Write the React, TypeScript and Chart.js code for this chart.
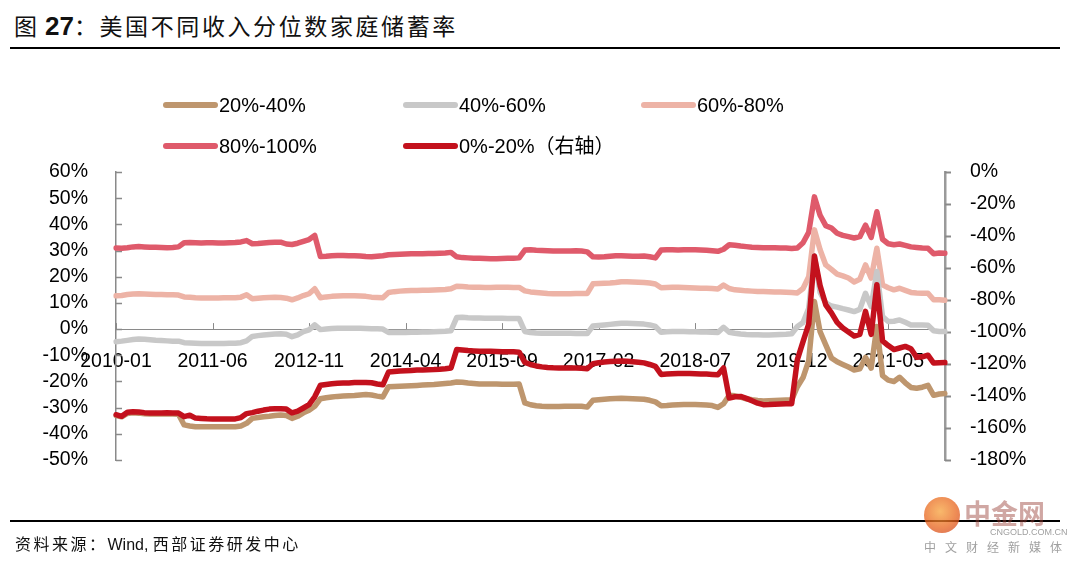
import React, { useEffect, useRef } from 'react';
import { Chart, registerables } from 'chart.js';

Chart.register(...registerables);

// ---------- categories (monthly, 2010-01 .. 2022-03) ----------
const START_YEAR = 2010;
const MONTH_COUNT = 147;
const categories: string[] = Array.from({ length: MONTH_COUNT }, (_, i) => {
  const y = START_YEAR + Math.floor(i / 12);
  const m = (i % 12) + 1;
  return `${y}-${m < 10 ? '0' + m : m}`;
});
const TICK_EVERY = 17;

// ---------- left axis ----------
const leftTicks = { min: -50, max: 60, step: 10 };
// ---------- right axis ----------
const rightTicks = { min: -180, max: 0, step: 20 };

// ---------- series (savings rate, %) ----------
const q20_40: number[] = [
  -33.0, -33.5, -32.2, -32.0, -32.1, -32.3, -32.4, -32.4, -32.4, -32.4, -32.4, -32.5,
  -36.6, -37.0, -37.3, -37.3, -37.3, -37.3, -37.3, -37.3, -37.3, -37.3, -37.0, -36.0,
  -34.1, -33.8, -33.5, -33.3, -33.0, -32.8, -33.0, -34.1, -33.3, -32.0, -31.0, -29.5,
  -26.6, -26.2, -25.9, -25.7, -25.6, -25.5, -25.4, -25.2, -25.0, -25.2, -25.6, -25.9,
  -22.0, -21.9, -21.8, -21.7, -21.6, -21.5, -21.4, -21.3, -21.2, -21.0, -20.8, -20.6,
  -20.2, -20.3, -20.6, -20.8, -21.0, -21.0, -21.0, -21.0, -21.1, -21.1, -21.1, -21.0,
  -28.2, -28.9, -29.3, -29.5, -29.6, -29.6, -29.6, -29.5, -29.5, -29.5, -29.5, -29.8,
  -27.2, -27.0, -26.8, -26.6, -26.5, -26.4, -26.5, -26.6, -26.7, -26.8, -27.2, -27.8,
  -29.3, -29.2, -29.0, -28.9, -28.8, -28.8, -28.8, -28.9, -29.0, -29.2, -29.9, -28.5,
  -25.3, -25.5, -26.0, -26.6, -27.0, -27.3, -27.5, -27.4, -27.3, -27.2, -27.1, -27.0,
  -22.0, -18.5, -12.0, 10.5, -1.0, -6.0, -11.0, -12.5, -13.5, -14.5, -15.6, -15.2,
  -10.8, -14.9, 1.0, -17.8, -19.5, -20.0, -18.4, -20.5, -22.3, -22.6, -22.2, -21.5,
  -25.3, -24.8, -24.6,
];

const q40_60: number[] = [
  -4.8, -4.6, -4.3, -4.0, -3.8, -3.9, -4.1, -4.3, -4.4, -4.5, -4.6, -4.6,
  -5.2, -5.3, -5.4, -5.5, -5.5, -5.5, -5.5, -5.5, -5.4, -5.4, -5.2, -4.5,
  -2.8, -2.5, -2.3, -2.1, -1.9, -1.8, -2.0, -2.9, -2.2, -1.0, -0.3, 1.6,
  -0.2, 0.0, 0.2, 0.3, 0.3, 0.3, 0.3, 0.3, 0.2, 0.1, 0.1, 0.0,
  -1.3, -1.3, -1.3, -1.3, -1.2, -1.2, -1.1, -1.1, -1.0, -0.9, -0.8, -0.6,
  4.4, 4.5, 4.3, 4.2, 4.2, 4.1, 4.1, 4.1, 4.1, 4.0, 4.0, 4.0,
  -0.9, -1.3, -1.5, -1.6, -1.6, -1.6, -1.6, -1.6, -1.6, -1.7, -1.7, -1.7,
  1.2, 1.4, 1.6, 1.8, 2.0, 2.2, 2.2, 2.1, 2.0, 1.9, 1.6, 1.0,
  -1.2, -1.0, -0.9, -0.9, -0.9, -1.0, -1.0, -1.1, -1.1, -1.2, -1.3, 0.7,
  -1.2, -1.6, -1.9, -2.1, -2.2, -2.2, -2.3, -2.3, -2.2, -2.1, -2.0, -1.8,
  1.0, 2.5, 8.0, 28.0, 14.0, 10.0, 8.8, 8.4, 7.8, 7.3, 6.7, 7.5,
  13.7, 8.6, 22.0, 4.8, 2.9, 3.0, 3.5, 2.6, 1.6, 1.6, 1.6, 1.5,
  -0.6, -0.9, -0.9,
];

const q60_80: number[] = [
  12.7, 12.8, 13.2, 13.4, 13.5, 13.4, 13.3, 13.2, 13.2, 13.1, 13.1, 13.0,
  12.3, 12.2, 12.0, 11.9, 11.9, 11.9, 11.9, 12.0, 12.0, 12.0, 12.2, 13.1,
  11.6, 11.8, 12.0, 12.1, 12.2, 12.1, 11.8, 11.2, 11.9, 12.8, 13.5, 15.4,
  12.0, 12.3, 12.5, 12.6, 12.7, 12.7, 12.7, 12.6, 12.5, 12.2, 12.1, 12.0,
  14.0, 14.3, 14.5, 14.6, 14.7, 14.7, 14.8, 14.8, 14.9, 15.0, 15.1, 15.4,
  16.4, 16.3, 16.1, 16.0, 16.0, 15.9, 15.9, 16.0, 16.0, 16.0, 15.9, 15.9,
  14.6, 14.2, 14.0, 13.8, 13.6, 13.5, 13.5, 13.5, 13.5, 13.6, 13.6, 13.6,
  17.3, 17.4, 17.5, 17.6, 17.8, 18.1, 18.1, 18.0, 17.9, 17.8, 17.6, 17.2,
  15.8, 15.9, 16.0, 16.0, 15.9, 15.8, 15.7, 15.6, 15.6, 15.5, 15.3, 16.8,
  15.5, 15.0, 14.8, 14.6, 14.5, 14.4, 14.4, 14.3, 14.2, 14.2, 14.1, 14.0,
  13.8, 15.5, 20.0, 37.9, 30.3, 24.5, 22.8, 21.0, 20.3, 19.5, 18.0, 19.0,
  24.5, 19.5, 30.9, 16.9, 15.8, 15.0, 15.6, 14.8, 14.0, 13.8, 13.7, 13.7,
  11.2, 11.2, 11.0,
];

const q80_100: number[] = [
  31.0, 30.9, 31.1, 31.4, 31.5, 31.4, 31.3, 31.3, 31.2, 31.1, 31.2, 31.4,
  33.0, 33.1, 33.0, 32.9, 33.0, 33.0, 32.9, 32.9, 33.0, 33.1, 33.3, 33.8,
  32.6, 32.7, 32.9, 33.1, 33.2, 33.2, 32.5, 32.3, 32.8, 33.5, 34.2, 35.8,
  27.7, 27.8, 28.0, 28.1, 28.1, 28.0, 28.0, 27.9, 27.7, 27.6, 27.8, 28.0,
  28.4, 28.5, 28.6, 28.7, 28.8, 28.8, 28.8, 28.9, 28.9, 29.0, 29.1, 29.3,
  27.6, 27.3, 27.2, 27.1, 27.1, 27.0, 26.9, 26.9, 27.0, 27.1, 27.1, 27.2,
  30.2, 30.3, 30.1, 30.0, 29.9, 29.8, 29.8, 29.8, 29.8, 29.9, 29.8, 29.5,
  27.6, 27.5, 27.6, 27.8, 28.0, 28.0, 27.9, 27.8, 27.8, 27.9, 27.6, 27.2,
  30.2, 30.3, 30.3, 30.2, 30.3, 30.3, 30.3, 30.2, 30.1, 29.9, 29.7, 30.5,
  32.2, 32.0, 31.7, 31.5, 31.3, 31.2, 31.1, 31.1, 31.1, 31.0, 31.0, 30.8,
  31.0, 33.0, 37.0, 50.5, 43.5, 39.5, 38.6, 36.6, 35.8, 35.3, 34.8, 35.3,
  39.7, 35.0, 44.8, 34.3, 32.6, 32.2, 32.5, 32.0, 31.4, 31.2, 31.0, 30.9,
  28.8, 29.1, 29.0,
];

// bottom quintile, plotted on the right axis
const q0_20: number[] = [
  -151.7, -152.7, -150.2, -149.8, -150.0, -150.4, -150.6, -150.6, -150.6, -150.5, -150.6, -150.7,
  -152.9, -152.0, -153.8, -154.0, -154.2, -154.3, -154.3, -154.4, -154.4, -154.3, -153.5, -151.0,
  -150.4, -149.5, -148.8, -148.2, -148.0, -148.0, -148.2, -150.6, -149.5, -147.5, -145.4, -140.5,
  -133.3, -132.8, -132.4, -132.1, -131.9, -131.8, -131.6, -131.5, -131.5, -131.7, -132.5, -133.0,
  -125.0, -124.7, -124.4, -124.2, -124.0, -123.8, -123.7, -123.6, -123.5, -123.3, -123.0, -122.5,
  -111.0, -111.3, -111.6, -111.8, -112.0, -112.1, -112.1, -112.2, -112.3, -112.3, -112.4, -112.6,
  -119.0, -120.3, -121.2, -121.8, -122.2, -122.4, -122.5, -122.5, -122.5, -122.5, -122.6, -123.0,
  -119.8, -119.2, -118.8, -118.5, -118.3, -118.2, -118.3, -118.6, -118.9, -119.3, -120.3, -121.5,
  -126.5, -126.3, -126.1, -126.0, -126.0, -126.0, -126.1, -126.2, -126.3, -126.5, -126.7, -122.5,
  -141.3, -140.5, -140.3, -141.5, -143.0, -144.5, -145.4, -145.3, -145.1, -145.0, -144.9, -144.8,
  -117.3, -106.0, -95.0, -52.5, -71.0, -83.0, -88.0, -94.0, -97.5, -100.0, -102.5, -101.5,
  -87.1, -101.5, -70.4, -105.5, -108.5, -111.0, -110.0, -109.0, -110.5, -115.8, -115.5, -114.5,
  -119.4, -119.2, -119.1,
];

// ---------- styling ----------
const COLORS = {
  q20: '#BE966E',
  q40: '#C8C8C8',
  q60: '#EDB3A6',
  q80: '#DF5A6B',
  q0: '#C3111D',
};
const FONT = '"Liberation Sans", Arial, "Noto Sans CJK SC", sans-serif';
const CJK = '"Noto Sans CJK SC", "Liberation Sans", sans-serif';
const AXIS_GRAY = '#8a8a8a';

const legendItems = [
  { label: '20%-40%', color: COLORS.q20, col: 0, row: 0 },
  { label: '40%-60%', color: COLORS.q40, col: 1, row: 0 },
  { label: '60%-80%', color: COLORS.q60, col: 2, row: 0 },
  { label: '80%-100%', color: COLORS.q80, col: 0, row: 1 },
  { label: '0%-20%（右轴）', color: COLORS.q0, col: 1, row: 1 },
];

const tickMarks = {
  id: 'tickMarks',
  beforeDatasetsDraw(chart: any) {
    const { ctx, chartArea, scales } = chart;
    const yL = scales.y;
    const yR = scales.y1;
    const x = scales.x;
    ctx.save();
    ctx.strokeStyle = AXIS_GRAY;
    ctx.lineWidth = 1.5;
    yL.ticks.forEach((_: any, i: number) => {
      const p = Math.round(yL.getPixelForTick(i)) + 0.5;
      ctx.beginPath();
      ctx.moveTo(chartArea.left, p);
      ctx.lineTo(chartArea.left + 6, p);
      ctx.stroke();
    });
    ctx.lineWidth = 2;
    yR.ticks.forEach((_: any, i: number) => {
      const p = Math.round(yR.getPixelForTick(i)) + 0.5;
      ctx.beginPath();
      ctx.moveTo(chartArea.right, p);
      ctx.lineTo(chartArea.right + 6, p);
      ctx.stroke();
    });
    const y0 = yL.getPixelForValue(0);
    ctx.lineWidth = 1;
    x.ticks.forEach((_: any, i: number) => {
      const p = Math.round(x.getPixelForTick(i)) + 0.5;
      ctx.beginPath();
      ctx.moveTo(p, y0);
      ctx.lineTo(p, y0 - 6);
      ctx.stroke();
    });
    ctx.restore();
  },
};

export default function App() {
  const ref = useRef<HTMLCanvasElement>(null);

  useEffect(() => {
    if (!ref.current) return;
    const line = (label: string, data: number[], color: string, axis: string, order: number) => ({
      label,
      data,
      yAxisID: axis,
      borderColor: color,
      backgroundColor: color,
      borderWidth: 5.5,
      pointRadius: 0,
      tension: 0,
      fill: false,
      order,
      borderJoinStyle: 'round' as const,
      borderCapStyle: 'round' as const,
    });
    const tickFont = { family: FONT, size: 19.5 };
    const chart = new Chart(ref.current, {
      type: 'line',
      data: {
        labels: categories,
        datasets: [
          line('0%-20%（右轴）', q0_20, COLORS.q0, 'y1', 0),
          line('20%-40%', q20_40, COLORS.q20, 'y', 1),
          line('40%-60%', q40_60, COLORS.q40, 'y', 2),
          line('60%-80%', q60_80, COLORS.q60, 'y', 3),
          line('80%-100%', q80_100, COLORS.q80, 'y', 4),
        ],
      },
      options: {
        responsive: false,
        animation: false,
        devicePixelRatio: 1,
        layout: { padding: { left: 0, right: 0, top: 172, bottom: 103 } },
        plugins: { legend: { display: false }, tooltip: { enabled: false }, title: { display: false } },
        scales: {
          x: {
            type: 'category',
            position: { y: 0 } as any,
            offset: false,
            grid: { display: false },
            border: { display: true, color: AXIS_GRAY, width: 1 },
            ticks: {
              autoSkip: false,
              maxRotation: 0,
              minRotation: 0,
              padding: 12.5,
              color: '#000',
              font: tickFont,
            },
            afterBuildTicks: (s: any) => {
              s.ticks = s.ticks.filter((t: any) => t.value % TICK_EVERY === 0);
            },
          },
          y: {
            position: 'left',
            min: leftTicks.min,
            max: leftTicks.max,
            grid: { display: false },
            border: { display: true, color: AXIS_GRAY, width: 1.5 },
            ticks: {
              stepSize: leftTicks.step,
              autoSkip: false,
              padding: 20,
              color: '#000',
              font: tickFont,
              callback: (v: any) => `${v}%`,
            },
            afterFit: (s: any) => {
              s.width = 116;
            },
          },
          y1: {
            position: 'right',
            min: rightTicks.min,
            max: rightTicks.max,
            grid: { display: false },
            border: { display: true, color: '#9a9a9a', width: 2.5 },
            ticks: {
              stepSize: rightTicks.step,
              autoSkip: false,
              padding: 17,
              color: '#000',
              font: tickFont,
              callback: (v: any) => `${v}%`,
            },
            afterFit: (s: any) => {
              s.width = 135;
            },
          },
        },
      } as any,
      plugins: [tickMarks],
    });
    return () => chart.destroy();
  }, []);

  const legendX = [163, 403, 641];
  const legendY = [105, 146];

  return (
    <div
      style={{
        position: 'absolute',
        left: 0,
        top: 0,
        width: 1080,
        height: 563,
        background: '#fff',
        overflow: 'hidden',
        fontFamily: FONT,
        color: '#000',
      }}
    >
      {/* title */}
      <div
        style={{
          position: 'absolute',
          left: 14,
          top: 9,
          height: 32,
          lineHeight: '32px',
          whiteSpace: 'nowrap',
          fontFamily: CJK,
          fontSize: 23,
          color: '#111',
        }}
      >
        <span>图</span>
        <span style={{ fontFamily: FONT, fontWeight: 'bold', fontSize: 26, marginLeft: 8 }}>27</span>
        <span style={{ letterSpacing: 2.6 }}>：美国不同收入分位数家庭储蓄率</span>
      </div>
      <div style={{ position: 'absolute', left: 10, top: 47, width: 1050, height: 1.5, background: '#000' }} />

      <canvas
        ref={ref}
        width={1080}
        height={563}
        style={{ position: 'absolute', left: 0, top: 0, width: 1080, height: 563 }}
      />

      {/* legend */}
      {legendItems.map((it) => {
        const x = legendX[it.col];
        const y = legendY[it.row];
        return (
          <React.Fragment key={it.label}>
            <div
              style={{
                position: 'absolute',
                left: x,
                top: y - 3,
                width: 55,
                height: 6,
                borderRadius: 3,
                background: it.color,
              }}
            />
            <div
              style={{
                position: 'absolute',
                left: x + 56,
                top: y - 12,
                height: 24,
                lineHeight: '24px',
                fontSize: 20,
                whiteSpace: 'nowrap',
                fontFamily: FONT,
              }}
            >
              {it.label}
            </div>
          </React.Fragment>
        );
      })}

      {/* footer */}
      <div style={{ position: 'absolute', left: 10, top: 520, width: 1050, height: 1.5, background: '#000' }} />
      <div
        style={{
          position: 'absolute',
          left: 15,
          top: 532,
          height: 22,
          lineHeight: '22px',
          fontSize: 16,
          fontFamily: CJK,
          letterSpacing: 2.5,
          whiteSpace: 'nowrap',
          color: '#111',
        }}
      >
        资料来源：<span style={{ fontFamily: FONT, letterSpacing: 0 }}>Wind, </span>西部证券研发中心
      </div>

      {/* watermark */}
      <div
        style={{
          position: 'absolute',
          left: 924,
          top: 497,
          width: 36,
          height: 36,
          borderRadius: 18,
          background: 'radial-gradient(circle at 45% 40%, #f6a13a 0%, #e8641c 55%, #c9381a 100%)',
          opacity: 0.75,
        }}
      />
      <div
        style={{
          position: 'absolute',
          left: 964,
          top: 498,
          fontSize: 27,
          lineHeight: '30px',
          fontWeight: 'bold',
          fontFamily: CJK,
          color: 'rgba(150,60,50,0.45)',
          whiteSpace: 'nowrap',
        }}
      >
        中金网
      </div>
      <div
        style={{
          position: 'absolute',
          left: 990,
          top: 527,
          fontSize: 9,
          lineHeight: '10px',
          color: '#a0a0a0',
          whiteSpace: 'nowrap',
        }}
      >
        CNGOLD.COM.CN
      </div>
      <div
        style={{
          position: 'absolute',
          left: 924,
          top: 539,
          fontSize: 12,
          lineHeight: '16px',
          letterSpacing: 9,
          fontFamily: CJK,
          color: '#a0a0a0',
          whiteSpace: 'nowrap',
        }}
      >
        中文财经新媒体
      </div>
    </div>
  );
}
